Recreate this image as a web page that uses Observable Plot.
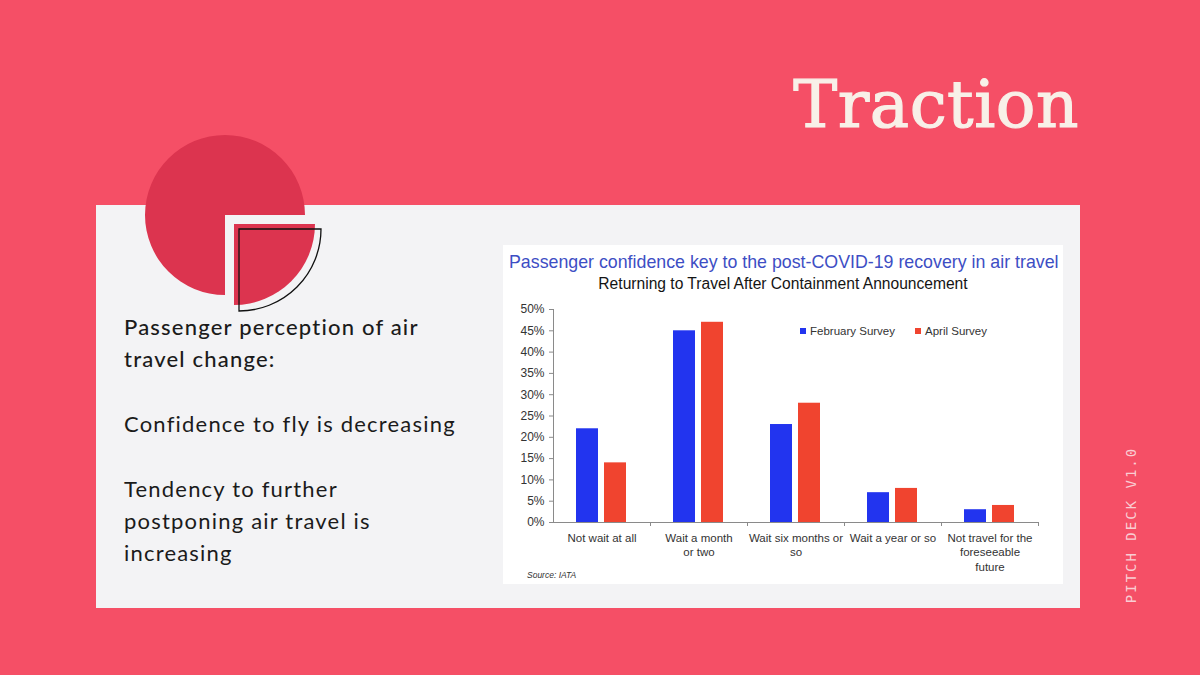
<!DOCTYPE html>
<html>
<head>
<meta charset="utf-8">
<script src="https://cdn.jsdelivr.net/npm/d3@7"></script>
<script src="https://cdn.jsdelivr.net/npm/@observablehq/plot@0.6"></script>
<style>
  html, body { margin: 0; padding: 0; }
  body { width: 1200px; height: 675px; overflow: hidden; background: #F54F66; position: relative; font-family: "Liberation Sans", Arial, sans-serif; }
  .abs { position: absolute; }
  #panel { left: 96px; top: 205px; width: 984px; height: 403px; background: #F3F3F5; }
  #deco { left: 0; top: 0; }
  #traction { right: 121px; top: 72px; font-family: "DejaVu Serif", serif; font-size: 66px; color: #F8F0E8; line-height: 1; letter-spacing: 0.5px; -webkit-text-stroke: 1.2px #F8F0E8; }
  #pitch { left: 1131px; top: 525px; transform: translate(-50%, -50%) rotate(-90deg); font-family: "DejaVu Sans Mono", monospace; font-size: 14px; letter-spacing: 2px; color: #F9CDD3; white-space: nowrap; }
  #bullets { left: 124px; top: 311px; font-family: Lato, "Noto Sans", sans-serif; font-size: 22px; line-height: 32px; color: #1B1B1B; letter-spacing: 1.2px; }
  #bullets p { margin: 0 0 33px 0; }
  #card { left: 503px; top: 245px; width: 560px; height: 339px; background: #FFFFFF; }
  #ctitle { left: 6px; top: 7px; font-size: 17.8px; color: #3D4EC4; white-space: nowrap; }
  #csub { left: 0; width: 560px; text-align: center; top: 30px; font-size: 15.6px; color: #141414; white-space: nowrap; }
  #chart { left: 0; top: 50px; }
  #legend { left: 297px; top: 80px; font-size: 11.5px; color: #333; display: flex; gap: 20px; white-space: nowrap; }
  #legend .item { display: flex; align-items: center; gap: 4px; }
  #legend .sw { width: 6px; height: 6px; display: inline-block; }
  #source { left: 24px; top: 325px; font-size: 8.5px; font-style: italic; color: #333; }
</style>
</head>
<body>
<div id="panel" class="abs"></div>
<svg id="deco" class="abs" width="1200" height="675">
  <path d="M225,215 L225,295 A80,80 0 1 1 305,215 Z" fill="#DC344F"/>
  <path d="M234,224 L315,224 A81,81 0 0 1 234,305 Z" fill="#DC344F"/>
  <path d="M239,229 L321,229 A82,82 0 0 1 239,311 Z" fill="none" stroke="#111" stroke-width="1.3"/>
</svg>
<div id="traction" class="abs">Traction</div>
<div id="pitch" class="abs">PITCH DECK V1.0</div>
<div id="bullets" class="abs">
  <p style="font-weight:500">Passenger perception of air<br>travel change:</p>
  <p>Confidence to fly is decreasing</p>
  <p>Tendency to further<br>postponing air travel is<br>increasing</p>
</div>
<div id="card" class="abs">
  <div id="ctitle" class="abs">Passenger confidence key to the post-COVID-19 recovery in air travel</div>
  <div id="csub" class="abs">Returning to Travel After Containment Announcement</div>
  <div id="chart" class="abs"></div>
  <div id="legend" class="abs"></div>
  <div id="source" class="abs">Source: IATA</div>
</div>
<script>
// ---- Data ----
const categories = [
  "Not wait at all",
  "Wait a month or two",
  "Wait six months or so",
  "Wait a year or so",
  "Not travel for the foreseeable future"
];
const categoryLabels = [
  "Not wait at all",
  "Wait a month\nor two",
  "Wait six months or\nso",
  "Wait a year or so",
  "Not travel for the\nforeseeable\nfuture"
];
const seriesNames = ["February Survey", "April Survey"];
const february = [22, 45, 23, 7, 3];
const april = [14, 47, 28, 8, 4];
const seriesColors = ["#2234EF", "#F0442F"];
const yTicks = [0, 5, 10, 15, 20, 25, 30, 35, 40, 45, 50];

const rows = categories.flatMap((c, i) => [
  {category: c, series: seriesNames[0], value: february[i]},
  {category: c, series: seriesNames[1], value: april[i]}
]);

const chart = Plot.plot({
  width: 560,
  height: 285,
  marginLeft: 50,
  marginRight: 25,
  marginTop: 14,
  marginBottom: 58,
  style: {background: "transparent", fontFamily: "Liberation Sans, Arial, sans-serif", fontSize: "11.5px", color: "#333"},
  fx: {domain: categories, padding: 0, label: null},
  x: {domain: seriesNames, paddingInner: 0.21, paddingOuter: 0.8, axis: null},
  y: {domain: [0, 50], label: null},
  color: {domain: seriesNames, range: seriesColors},
  marks: [
    Plot.barY(rows, {fx: "category", x: "series", y: "value", fill: "series"}),
    Plot.ruleY([0], {stroke: "#8a8a8a", strokeWidth: 1}),
    Plot.axisY({ticks: yTicks, tickFormat: d => d + "%", tickSize: 4, tickPadding: 5, label: null, fontSize: 12, stroke: "#8a8a8a"}),
    Plot.axisFx({anchor: "bottom", tickSize: 0, tickPadding: 9, label: null, lineHeight: 1.27,
      tickFormat: d => categoryLabels[categories.indexOf(d)]})
  ]
});
document.getElementById("chart").appendChild(chart);

// axis line and category boundary ticks, positioned with Plot's own scales
const fxS = chart.scale("fx");
const yS = chart.scale("y");
const fxBand = d3.scaleBand(fxS.domain, fxS.range).paddingInner(fxS.paddingInner ?? 0).paddingOuter(fxS.paddingOuter ?? 0);
const yLin = d3.scaleLinear(yS.domain, yS.range);
const g = d3.select(chart).append("g").attr("stroke", "#8a8a8a").attr("stroke-width", 1);
const x0 = fxBand(categories[0]);
g.append("line").attr("x1", x0 + 0.5).attr("x2", x0 + 0.5).attr("y1", yLin(0)).attr("y2", yLin(50));
categories.forEach(c => {
  const xe = Math.round(fxBand(c) + fxBand.bandwidth()) + 0.5;
  g.append("line").attr("x1", xe).attr("x2", xe).attr("y1", yLin(0)).attr("y2", yLin(0) + 4);
});

// legend
const legend = d3.select("#legend");
seriesNames.forEach((s, i) => {
  const it = legend.append("div").attr("class", "item");
  it.append("span").attr("class", "sw").style("background", seriesColors[i]);
  it.append("span").text(s);
});
</script>
</body>
</html>
